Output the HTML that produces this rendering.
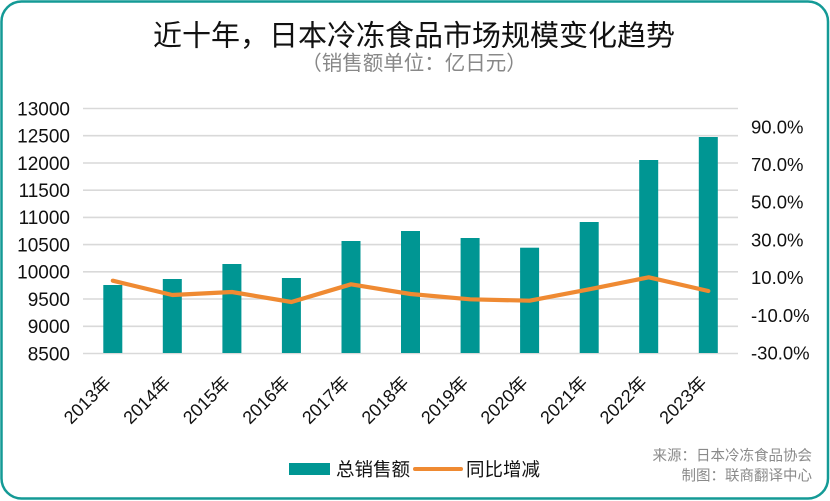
<!DOCTYPE html>
<html><head><meta charset="utf-8"><style>
html,body{margin:0;padding:0;background:#fff;}
svg{display:block;}
</style></head><body>
<svg width="830" height="501" viewBox="0 0 830 501" xmlns="http://www.w3.org/2000/svg">
<rect x="0" y="0" width="830" height="501" fill="#fff"/>
<rect x="1.5" y="1.5" width="826.5" height="497" rx="20" ry="20" fill="none" stroke="#149A96" stroke-width="2.5"/>
<g font-family="'Liberation Sans','Noto Sans CJK SC',sans-serif" text-anchor="middle">
<text x="414" y="45.5" font-size="29" fill="#111">近十年，日本冷冻食品市场规模变化趋势</text>
<text x="414" y="70" font-size="20.5" fill="#888">（销售额单位：亿日元）</text>
</g>
<g stroke="#D9D9D9" stroke-width="1.6">
<line x1="83" x2="738" y1="108.5" y2="108.5"/>
<line x1="83" x2="738" y1="135.7" y2="135.7"/>
<line x1="83" x2="738" y1="163.0" y2="163.0"/>
<line x1="83" x2="738" y1="190.2" y2="190.2"/>
<line x1="83" x2="738" y1="217.4" y2="217.4"/>
<line x1="83" x2="738" y1="244.6" y2="244.6"/>
<line x1="83" x2="738" y1="271.8" y2="271.8"/>
<line x1="83" x2="738" y1="299.0" y2="299.0"/>
<line x1="83" x2="738" y1="326.3" y2="326.3"/>
<line x1="83" x2="738" y1="353.5" y2="353.5"/>
</g>
<g fill="#009693">
<rect x="103.3" y="285" width="19" height="68"/>
<rect x="162.8" y="279" width="19" height="74"/>
<rect x="222.4" y="264" width="19" height="89"/>
<rect x="281.9" y="278" width="19" height="75"/>
<rect x="341.5" y="241" width="19" height="112"/>
<rect x="401.0" y="231" width="19" height="122"/>
<rect x="460.6" y="238" width="19" height="115"/>
<rect x="520.1" y="247.7" width="19" height="105.3"/>
<rect x="579.7" y="222" width="19" height="131"/>
<rect x="639.2" y="160" width="19" height="193"/>
<rect x="698.8" y="137" width="19" height="216"/>
</g>
<polyline fill="none" stroke="#EF8A32" stroke-width="4.2" stroke-linejoin="round" stroke-linecap="round"
points="112.8,280.7 172.3,295 231.9,292 291.4,302 351,284.3 410.5,294 470.1,299.3 529.6,300.7 589.2,289.3 648.7,277.3 708.3,291"/>
<g font-family="'Liberation Sans',sans-serif" font-size="19" fill="#111" text-anchor="end">
<text x="70" y="115.3">13000</text>
<text x="70" y="142.5">12500</text>
<text x="70" y="169.8">12000</text>
<text x="70" y="197.0">11500</text>
<text x="70" y="224.2">11000</text>
<text x="70" y="251.4">10500</text>
<text x="70" y="278.6">10000</text>
<text x="70" y="305.8">9500</text>
<text x="70" y="333.1">9000</text>
<text x="70" y="360.3">8500</text>
</g>
<g font-family="'Liberation Sans',sans-serif" font-size="18.5" fill="#111" text-anchor="start">
<text x="751" y="133.3">90.0%</text>
<text x="751" y="171.0">70.0%</text>
<text x="751" y="208.7">50.0%</text>
<text x="751" y="246.4">30.0%</text>
<text x="751" y="284.1">10.0%</text>
<text x="751" y="321.8">-10.0%</text>
<text x="751" y="359.5">-30.0%</text>
</g>
<g font-family="'Liberation Sans','Noto Sans CJK SC',sans-serif" font-size="18" fill="#111" text-anchor="end">
<text transform="translate(112.3,384) rotate(-45)">2013年</text>
<text transform="translate(171.8,384) rotate(-45)">2014年</text>
<text transform="translate(231.4,384) rotate(-45)">2015年</text>
<text transform="translate(290.9,384) rotate(-45)">2016年</text>
<text transform="translate(350.5,384) rotate(-45)">2017年</text>
<text transform="translate(410.0,384) rotate(-45)">2018年</text>
<text transform="translate(469.6,384) rotate(-45)">2019年</text>
<text transform="translate(529.1,384) rotate(-45)">2020年</text>
<text transform="translate(588.7,384) rotate(-45)">2021年</text>
<text transform="translate(648.2,384) rotate(-45)">2022年</text>
<text transform="translate(707.8,384) rotate(-45)">2023年</text>
</g>
<rect x="289" y="463" width="41" height="12" fill="#009693"/>
<line x1="415" x2="461" y1="469" y2="469" stroke="#EF8A32" stroke-width="4" stroke-linecap="round"/>
<g font-family="'Liberation Sans','Noto Sans CJK SC',sans-serif" font-size="18.5" fill="#111">
<text x="336" y="476">总销售额</text>
<text x="466" y="476">同比增减</text>
</g>
<g font-family="'Liberation Sans','Noto Sans CJK SC',sans-serif" font-size="14.5" fill="#8A8A8A" text-anchor="end">
<text x="812" y="460.5">来源：日本冷冻食品协会</text>
<text x="812" y="480.5">制图：联商翻译中心</text>
</g>
</svg>
</body></html>
